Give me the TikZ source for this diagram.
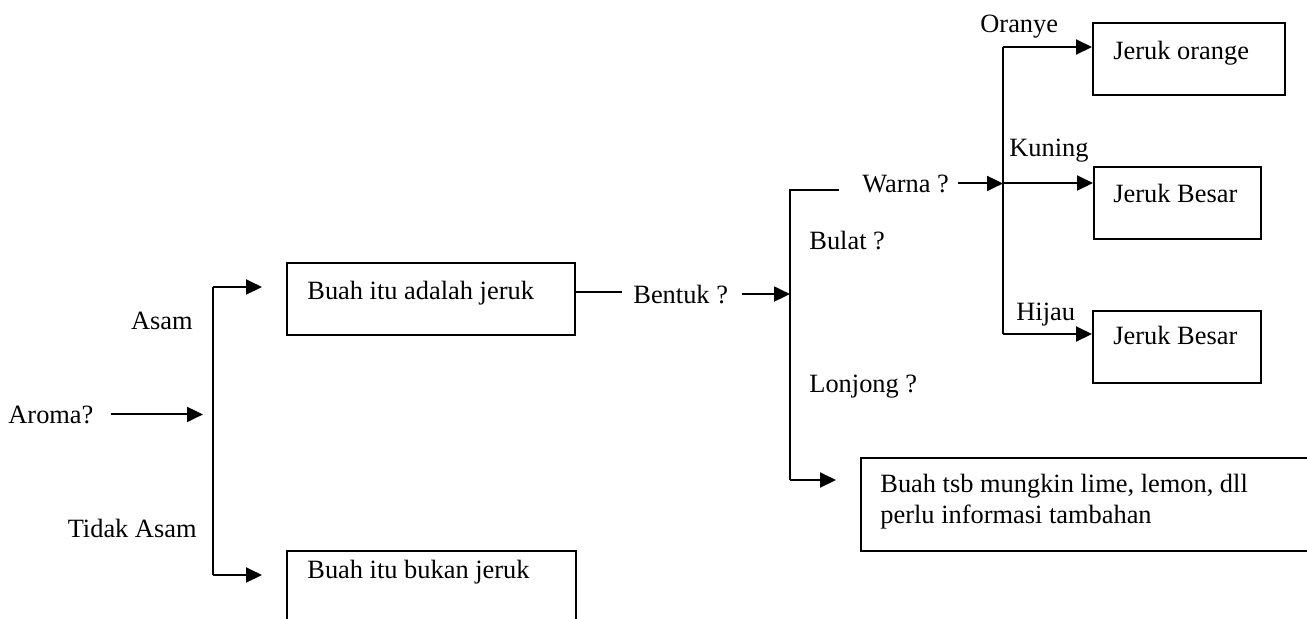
\documentclass[tikz,border=0pt]{standalone}
\usepackage{fontspec}
\setmainfont{Liberation Serif}
\usetikzlibrary{arrows.meta}
\begin{document}
\begin{tikzpicture}[x=0.5pt,y=-0.5pt,
  line/.style={line width=1pt},
  arr/.style={line width=1pt,-{Triangle[length=8pt,width=7.5pt]}},
  box/.style={draw,line width=1pt,anchor=north west,inner sep=0pt},
  lbl/.style={anchor=base west,inner sep=0pt,font=\fontsize{13.2pt}{15.5pt}\selectfont},
  lble/.style={anchor=base east,inner sep=0pt,font=\fontsize{13.2pt}{15.5pt}\selectfont}]
\useasboundingbox (0,0) rectangle (1307,618);

% boxes
\node[box,minimum width=144pt,minimum height=36pt] (boxA) at (286,262) {};
\node[box,minimum width=144.5pt,minimum height=40pt] (boxB) at (286,550) {};
\node[box,minimum width=96pt,minimum height=36pt] (boxO) at (1092,22) {};
\node[box,minimum width=83.5pt,minimum height=36pt] (boxK) at (1093,166) {};
\node[box,minimum width=84pt,minimum height=36pt] (boxH) at (1092,310) {};
\node[box,minimum width=230pt,minimum height=46.5pt] (boxC) at (860,457) {};

% box texts
\node[lbl] (tA) at (307,299) {Buah itu adalah jeruk};
\node[lbl] (tB) at (307,578) {Buah itu bukan jeruk};
\node[lbl] (tO) at (1113,59) {Jeruk orange};
\node[lbl] (tK) at (1113,202) {Jeruk Besar};
\node[lbl] (tH) at (1113,344) {Jeruk Besar};
\node[lbl] (tC1) at (880,492) {Buah tsb mungkin lime, lemon, dll};
\node[lbl] (tC2) at (880,523) {perlu informasi tambahan};

% questions and branch labels
\node[lbl] (aroma) at (8,423) {Aroma?};
\node[lble] (asam) at (193,329) {Asam};
\node[lble] (tidak) at (197,537) {Tidak Asam};
\node[lbl] (bentuk) at (633,303) {Bentuk ?};
\node[lbl] (warna) at (862,192) {Warna ?};
\node[lbl] (bulat) at (809,249) {Bulat ?};
\node[lbl] (lonjong) at (809,392) {Lonjong ?};
\node[lbl] (oranye) at (980,32) {Oranye};
\node[lbl] (kuning) at (1009,156) {Kuning};
\node[lbl] (hijau) at (1016,320) {Hijau};

% junction points
\coordinate (j1top) at (213,287);
\coordinate (j1bot) at (213,575);
\coordinate (j1in) at (203,412);
\coordinate (bentukL) at (622,292);
\coordinate (j2top) at (790,190);
\coordinate (j2bot) at (790,480);
\coordinate (j2mid) at (790,294);
\coordinate (j2stub) at (839,190);
\coordinate (j3top) at (1003,47);
\coordinate (j3bot) at (1003,334);
\coordinate (j3mid) at (1003,183);

% aroma branch
\draw[arr] (aroma.east) ++(8.5pt,0) -- (aroma.east -| j1in);
\draw[line] (j1top) -- (j1bot);
\draw[arr] (j1top) -- ([xshift=-12pt]j1top -| boxA.west);
\draw[arr] (j1bot) -- ([xshift=-12pt]j1bot -| boxB.west);

% shape branch
\draw[line] (boxA.east |- bentukL) -- (bentukL);
\draw[arr] (bentuk.east) ++(7pt,0) -- (bentuk.east -| j2mid);
\draw[line] (j2stub) -- (j2top) -- (j2bot);
\draw[arr] (j2bot) -- ([xshift=-12pt]j2bot -| boxC.west);

% colour branch
\draw[arr] (warna.east) ++(4.5pt,0) -- (warna.east -| j3mid);
\draw[line] (j3top) -- (j3bot);
\draw[arr] (j3top) -- (j3top -| boxO.west);
\draw[arr] (j3mid) -- (j3mid -| boxK.west);
\draw[arr] (j3bot) -- (j3bot -| boxH.west);
\end{tikzpicture}
\end{document}
